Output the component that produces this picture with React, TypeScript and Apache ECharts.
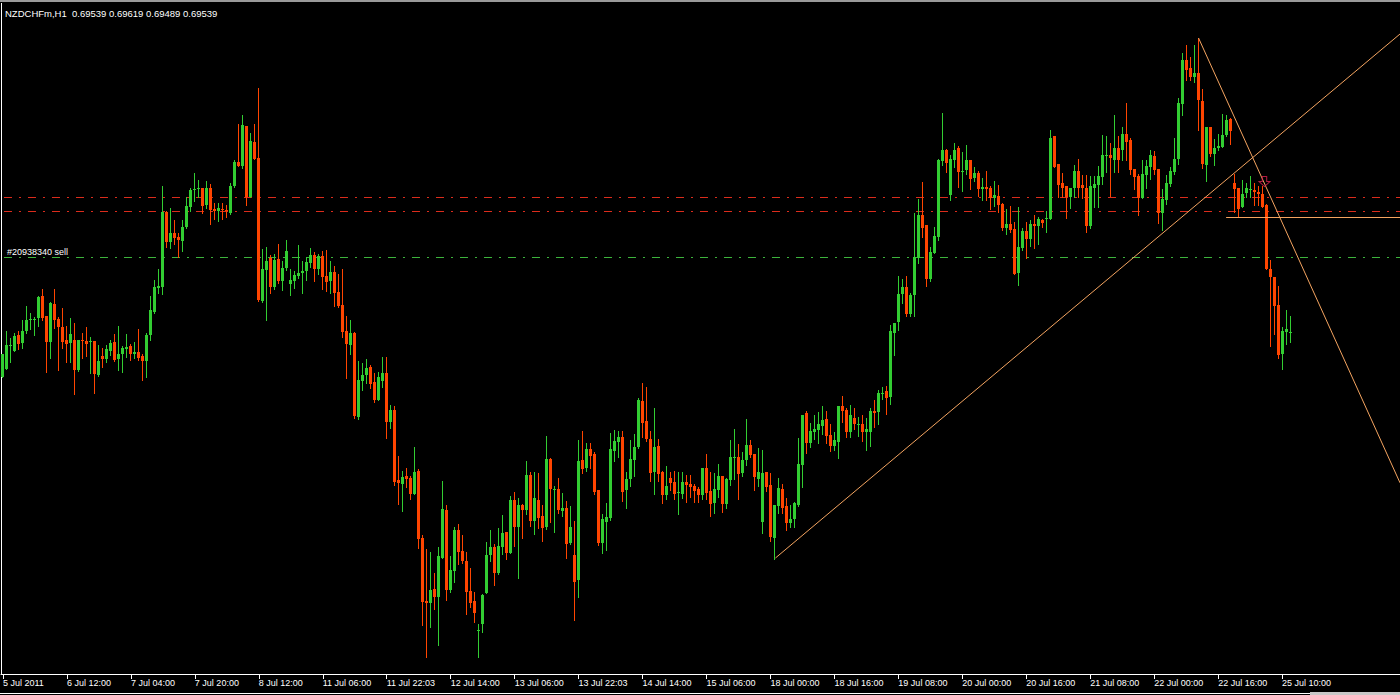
import React, { useEffect, useRef } from "react";
import * as echarts from "echarts";

// ---- texts ----
const titleText = "NZDCHFm,H1  0.69539 0.69619 0.69489 0.69539";
const orderText = "#20938340 sell";
const tickLabels = [
  "5 Jul 2011", "6 Jul 12:00", "7 Jul 04:00", "7 Jul 20:00", "8 Jul 12:00",
  "11 Jul 06:00", "11 Jul 22:03", "12 Jul 14:00", "13 Jul 06:00", "13 Jul 22:03",
  "14 Jul 14:00", "15 Jul 06:00", "18 Jul 00:00", "18 Jul 16:00", "19 Jul 08:00",
  "20 Jul 00:00", "20 Jul 16:00", "21 Jul 08:00", "22 Jul 00:00", "22 Jul 16:00",
  "25 Jul 10:00",
];
const barsPerTick = 16;
const totalSlots = 350; // visible bar slots incl. right-hand shift space

// ---- H1 candles: [open, close, low, high] in points (1e-5) ----
const seg00 = [
  [69315, 69430, 69315, 69430], [69355, 69475, 69355, 69545], [69470, 69475, 69390, 69510], [69445, 69520, 69445, 69535],
  [69525, 69480, 69455, 69545], [69485, 69545, 69460, 69600], [69545, 69600, 69535, 69670], [69600, 69605, 69555, 69635],
  [69600, 69605, 69525, 69615], [69610, 69715, 69570, 69720], [69720, 69610, 69600, 69755], [69620, 69490, 69340, 69620],
  [69490, 69685, 69410, 69690], [69680, 69600, 69560, 69755], [69605, 69565, 69350, 69615], [69565, 69490, 69460, 69660],
];
const seg01 = [
  [69500, 69480, 69390, 69570], [69485, 69530, 69390, 69610], [69500, 69350, 69230, 69585], [69350, 69500, 69345, 69500],
  [69500, 69495, 69410, 69535], [69495, 69480, 69420, 69565], [69490, 69495, 69335, 69515], [69495, 69330, 69235, 69495],
  [69325, 69395, 69320, 69475], [69420, 69405, 69365, 69460], [69405, 69455, 69390, 69475], [69445, 69485, 69425, 69500],
  [69490, 69400, 69395, 69530], [69405, 69430, 69350, 69570], [69430, 69460, 69340, 69470], [69455, 69465, 69415, 69530],
];
const seg02 = [
  [69470, 69430, 69400, 69480], [69430, 69440, 69410, 69490], [69440, 69410, 69400, 69555], [69420, 69395, 69300, 69430],
  [69395, 69525, 69315, 69535], [69525, 69650, 69500, 69720], [69640, 69765, 69635, 69800], [69760, 69770, 69735, 69855],
  [69765, 70140, 69730, 70270], [70140, 69990, 69965, 70145], [69990, 70035, 69960, 70160], [70035, 70010, 69980, 70100],
  [70015, 70000, 69915, 70035], [69995, 70065, 69945, 70100], [70065, 70170, 70060, 70215], [70165, 70250, 70145, 70260],
];
const seg03 = [
  [70250, 70255, 70195, 70335], [70255, 70260, 70215, 70300], [70260, 70170, 70135, 70260], [70175, 70260, 70160, 70295],
  [70260, 70150, 70080, 70280], [70155, 70145, 70105, 70185], [70145, 70160, 70095, 70185], [70155, 70150, 70105, 70185],
  [70150, 70145, 70115, 70175], [70135, 70270, 70130, 70285], [70270, 70390, 70265, 70400], [70390, 70370, 70370, 70580],
  [70370, 70575, 70360, 70625], [70570, 70215, 70175, 70570], [70215, 70495, 70215, 70535], [70490, 70405, 70405, 70580],
];
const seg04 = [
  [70410, 69700, 69695, 70760], [69695, 69855, 69690, 69955], [69850, 69895, 69600, 69965], [69910, 69765, 69735, 69925],
  [69765, 69900, 69755, 69930], [69905, 69795, 69785, 69980], [69795, 69860, 69750, 69895], [69860, 69945, 69850, 70000],
  [69780, 69800, 69725, 69855], [69795, 69825, 69760, 69845], [69820, 69835, 69810, 69975], [69835, 69845, 69735, 69895],
  [69845, 69890, 69800, 69915], [69885, 69925, 69865, 69960], [69925, 69855, 69795, 69940], [69855, 69920, 69830, 69930],
];
const seg05 = [
  [69920, 69815, 69755, 69945], [69820, 69790, 69745, 69950], [69795, 69840, 69735, 69895], [69840, 69735, 69670, 69870],
  [69740, 69670, 69665, 69830], [69675, 69540, 69515, 69855], [69545, 69480, 69310, 69620], [69475, 69535, 69430, 69600],
  [69535, 69120, 69110, 69540], [69115, 69300, 69105, 69395], [69295, 69325, 69250, 69385], [69325, 69360, 69285, 69405],
  [69365, 69280, 69260, 69375], [69290, 69200, 69190, 69335], [69200, 69315, 69200, 69340], [69295, 69335, 69265, 69415],
];
const seg06 = [
  [69335, 69090, 69010, 69415], [69090, 69150, 69060, 69175], [69150, 68790, 68775, 69170], [68800, 68785, 68680, 68920],
  [68780, 68815, 68645, 68845], [68820, 68805, 68765, 68860], [68810, 68730, 68705, 68820], [68730, 68840, 68730, 68965],
  [68845, 68505, 68460, 68855], [68510, 68190, 68075, 68525], [68195, 68185, 67915, 68455], [68185, 68250, 68065, 68440],
  [68255, 68215, 68155, 68335], [68215, 68420, 67975, 68465], [68410, 68655, 68410, 68795], [68650, 68250, 68200, 68675],
];
const seg07 = [
  [68250, 68350, 68240, 68420], [68345, 68550, 68290, 68565], [68550, 68440, 68380, 68580], [68445, 68395, 68385, 68525],
  [68395, 68240, 68130, 68440], [68245, 68185, 68165, 68360], [68195, 68135, 68090, 68240], [68045, 68050, 67915, 68080],
  [68080, 68225, 68040, 68230], [68235, 68425, 68235, 68490], [68425, 68465, 68395, 68550], [68465, 68335, 68275, 68480],
  [68335, 68470, 68330, 68560], [68465, 68535, 68430, 68625], [68540, 68435, 68405, 68540], [68435, 68700, 68435, 68720],
];
const seg08 = [
  [68700, 68565, 68470, 68740], [68565, 68675, 68310, 68710], [68675, 68650, 68510, 68680], [68650, 68825, 68630, 68895],
  [68825, 68595, 68570, 68840], [68595, 68710, 68530, 68840], [68700, 68610, 68560, 68835], [68620, 68560, 68495, 68675],
  [68565, 68905, 68555, 69020], [68905, 68755, 68590, 68910], [68750, 68755, 68540, 68770], [68755, 68650, 68635, 68810],
  [68645, 68660, 68620, 68735], [68660, 68480, 68410, 68695], [68485, 68565, 68480, 68670], [68425, 68290, 68100, 68595],
];
const seg09 = [
  [68300, 68895, 68215, 69000], [68900, 68855, 68835, 69045], [68860, 68955, 68845, 68985], [68955, 68920, 68860, 68985],
  [68930, 68740, 68730, 68940], [68750, 68485, 68475, 68750], [68485, 68605, 68435, 68630], [68590, 68615, 68450, 68685],
  [68610, 68955, 68600, 69035], [68945, 68995, 68895, 69050], [68990, 69015, 68915, 69045], [69015, 68740, 68695, 69045],
  [68750, 68805, 68660, 68840], [68805, 68905, 68770, 69000], [68900, 68965, 68820, 69030], [68965, 69200, 68960, 69210],
];
const seg10 = [
  [69195, 69085, 69015, 69285], [69095, 69005, 68995, 69265], [69005, 68835, 68795, 69045], [68840, 68965, 68730, 69160],
  [68970, 68830, 68795, 69005], [68840, 68725, 68685, 68845], [68725, 68770, 68705, 68870], [68810, 68785, 68750, 68840],
  [68790, 68730, 68705, 68845], [68735, 68740, 68630, 68840], [68730, 68790, 68710, 68840], [68790, 68775, 68690, 68825],
  [68780, 68765, 68715, 68825], [68770, 68745, 68690, 68780], [68755, 68725, 68690, 68765], [68725, 68860, 68705, 68860],
];
const seg11 = [
  [68860, 68735, 68705, 68930], [68745, 68680, 68620, 68840], [68685, 68755, 68635, 68835], [68750, 68820, 68715, 68880],
  [68820, 68680, 68640, 68820], [68680, 68805, 68660, 68810], [68800, 68915, 68775, 69000], [68910, 68915, 68805, 69055],
  [68915, 68830, 68705, 68980], [68835, 68900, 68820, 68940], [68900, 68975, 68875, 69105], [68975, 68925, 68915, 69000],
  [68930, 68815, 68750, 68930], [68805, 68840, 68770, 68960], [68590, 68835, 68535, 68950], [68840, 68765, 68745, 68840],
];
const seg12 = [
  [68775, 68515, 68495, 68835], [68510, 68675, 68405, 68675], [68670, 68760, 68635, 68810], [68755, 68660, 68635, 68780],
  [68670, 68585, 68550, 68710], [68585, 68605, 68565, 68675], [68605, 68685, 68565, 68690], [68675, 68880, 68670, 69010],
  [68875, 69125, 68765, 69125], [69135, 68985, 68935, 69145], [68985, 69045, 68965, 69085], [69040, 69055, 69005, 69125],
  [69050, 69080, 68985, 69140], [69070, 69100, 69030, 69170], [69105, 69020, 68985, 69145], [69025, 68970, 68945, 69080],
];
const seg13 = [
  [68970, 69000, 68950, 69040], [68990, 69170, 68910, 69170], [69170, 69145, 69090, 69220], [69150, 69040, 69015, 69160],
  [69040, 69125, 69015, 69175], [69110, 69080, 69055, 69160], [69075, 69080, 69020, 69115], [69080, 69040, 68995, 69125],
  [69040, 69055, 68950, 69110], [69040, 69145, 68970, 69160], [69145, 69135, 69065, 69200], [69140, 69235, 69080, 69250],
  [69230, 69235, 69205, 69265], [69245, 69210, 69130, 69270], [69215, 69545, 69180, 69575], [69535, 69585, 69425, 69585],
];
const seg14 = [
  [69590, 69730, 69550, 69820], [69730, 69765, 69685, 69805], [69765, 69630, 69620, 69820], [69630, 69725, 69620, 69735],
  [69725, 69915, 69620, 70135], [69910, 70125, 69885, 70205], [70125, 70060, 70015, 70290], [70075, 69805, 69770, 70075],
  [69805, 69940, 69795, 69965], [69935, 70020, 69935, 70065], [70015, 70400, 70000, 70405], [70395, 70450, 70375, 70635],
  [70450, 70385, 70340, 70455], [70225, 70405, 70200, 70425], [70400, 70450, 70365, 70485], [70460, 70340, 70265, 70470],
];
const seg15 = [
  [70340, 70345, 70245, 70440], [70350, 70400, 70330, 70475], [70400, 70305, 70255, 70400], [70310, 70335, 70295, 70365],
  [70335, 70255, 70220, 70345], [70255, 70265, 70200, 70310], [70265, 70255, 70200, 70345], [70260, 70210, 70155, 70270],
  [70210, 70225, 70170, 70295], [70220, 70175, 70140, 70275], [70180, 70060, 70050, 70185], [70060, 70080, 70030, 70155],
  [70080, 70050, 70040, 70170], [70055, 69830, 69830, 70090], [69835, 69965, 69775, 70165], [69960, 70045, 69950, 70060],
];
const seg16 = [
  [70045, 70005, 69910, 70090], [70005, 70080, 69970, 70100], [70080, 70070, 69960, 70125], [70070, 70105, 69980, 70115],
  [70100, 70085, 70065, 70105], [70105, 70110, 70040, 70145], [70105, 70510, 70105, 70550], [70520, 70365, 70365, 70520],
  [70380, 70275, 70215, 70380], [70285, 70260, 70215, 70335], [70270, 70215, 70110, 70270], [70215, 70260, 70160, 70260],
  [70260, 70345, 70215, 70375], [70345, 70260, 70215, 70405], [70275, 70260, 70210, 70325], [70260, 70070, 70040, 70325],
];
const seg17 = [
  [70070, 70270, 70060, 70320], [70260, 70280, 70165, 70320], [70275, 70320, 70165, 70370], [70315, 70425, 70280, 70525],
  [70420, 70425, 70340, 70520], [70425, 70410, 70220, 70485], [70400, 70460, 70340, 70625], [70460, 70400, 70340, 70520],
  [70450, 70530, 70400, 70565], [70530, 70490, 70400, 70685], [70500, 70350, 70330, 70510], [70355, 70315, 70255, 70355],
  [70320, 70210, 70125, 70330], [70210, 70330, 70210, 70400], [70325, 70370, 70260, 70400], [70365, 70425, 70305, 70450],
];
const seg18 = [
  [70420, 70350, 70330, 70445], [70355, 70135, 70085, 70355], [70135, 70205, 70050, 70255], [70200, 70285, 70180, 70325],
  [70280, 70345, 70270, 70365], [70340, 70405, 70330, 70510], [70405, 70685, 70380, 70710], [70680, 70900, 70625, 70935],
  [70900, 70850, 70800, 70975], [70860, 70815, 70800, 70915], [70815, 70835, 70790, 70975], [70835, 70700, 70550, 71010],
  [70695, 70380, 70360, 70755], [70375, 70565, 70295, 70565], [70565, 70430, 70420, 70565], [70430, 70460, 70375, 70505],
];
const seg19 = [
  [70460, 70470, 70450, 70530], [70465, 70525, 70465, 70630], [70525, 70600, 70520, 70625], [70605, 70545, 70480, 70610],
  [70285, 70255, 70140, 70330], [70260, 70155, 70115, 70260], [70165, 70230, 70165, 70300], [70235, 70260, 70215, 70285],
  [70250, 70255, 70215, 70320], [70250, 70240, 70175, 70285], [70240, 70230, 70175, 70270], [70230, 70165, 70165, 70270],
  [70175, 69855, 69855, 70180], [69855, 69815, 69470, 69900], [69815, 69670, 69530, 69815], [69675, 69425, 69410, 69770],
];
const seg20 = [
  [69430, 69545, 69355, 69565], [69540, 69555, 69480, 69650], [69539, 69539, 69489, 69619],
];
const segments = [seg00, seg01, seg02, seg03, seg04, seg05, seg06, seg07, seg08, seg09, seg10,
  seg11, seg12, seg13, seg14, seg15, seg16, seg17, seg18, seg19, seg20];

// ---- order levels and drawn objects (price; x in bar slots) ----
const stopLevels = [0.702125, 0.701425];
const sellLevel = 0.699125;
const hLine = [[306.0, 0.701125], [349.5, 0.701125]];
const trendUp = [[193.25, 0.6841], [349.5, 0.7103]];
const trendDown = [[299.1, 0.7101], [349.5, 0.68786]];
const sellArrow = [[315.6, 0.70292]];

const priceMin = 0.6783;
const priceMax = 0.712;

const BULL = "#32cd32";
const BEAR = "#ff4500";
const TREND = "#f4a460";
const STOP = "#dc2c1c";
const SELL = "#3cb43c";
const FONT = '"Liberation Sans", Arial, sans-serif';

export default function App() {
  const ref = useRef<HTMLDivElement>(null);

  useEffect(() => {
    document.body.style.margin = "0";
    document.body.style.background = "#000";
    const chart = echarts.init(ref.current!, undefined, { renderer: "svg" });

    const candles = segments.flat().map((r, i) => [i, ...r.map((v) => v / 100000)]);
    const categories = Array.from({ length: totalSlots }, (_, i) => String(i));
    const isTick = (idx: number) => idx % barsPerTick === 0 && idx / barsPerTick < tickLabels.length;

    const levelSeries = (price: number, color: string) => ({
      type: "line",
      xAxisIndex: 1,
      yAxisIndex: 0,
      data: [[0.25, price], [349.5, price]],
      symbol: "none",
      silent: true,
      z: 1,
      lineStyle: { color, width: 1, type: [8, 7, 2, 7] },
    });
    const trendSeries = (pts: number[][]) => ({
      type: "line",
      xAxisIndex: 1,
      yAxisIndex: 0,
      data: pts,
      symbol: "none",
      silent: true,
      clip: true,
      z: 5,
      lineStyle: { color: TREND, width: 1 },
    });

    const renderCandle = (_params: any, api: any) => {
      const i = api.value(0);
      const o = api.value(1);
      const c = api.value(2);
      const l = api.value(3);
      const h = api.value(4);
      const pO = api.coord([i, o]);
      const pC = api.coord([i, c]);
      const pL = api.coord([i, l]);
      const pH = api.coord([i, h]);
      const x = Math.floor(pO[0]);
      const color = c >= o ? BULL : BEAR;
      const top = Math.round(Math.min(pO[1], pC[1]));
      const bottom = Math.round(Math.max(pO[1], pC[1]));
      return {
        type: "group",
        children: [
          {
            type: "line",
            shape: { x1: x + 0.5, y1: Math.round(pH[1]), x2: x + 0.5, y2: Math.round(pL[1]) + 1 },
            style: { stroke: color, lineWidth: 1 },
          },
          {
            type: "rect",
            shape: { x: x - 1, y: top, width: 3, height: Math.max(1, bottom - top) },
            style: { fill: color },
          },
        ],
      };
    };

    chart.setOption({
      animation: false,
      backgroundColor: "#000",
      grid: { left: 0, right: 0, top: 0, bottom: 21, containLabel: false },
      xAxis: [
        {
          type: "category",
          data: categories,
          boundaryGap: true,
          axisLine: { show: true, lineStyle: { color: "#ffffff", width: 1 } },
          axisTick: {
            show: true,
            alignWithLabel: true,
            interval: (idx: number) => isTick(idx),
            length: 5,
            lineStyle: { color: "#ffffff" },
          },
          axisLabel: {
            show: true,
            interval: (idx: number) => isTick(idx),
            formatter: (_v: string, idx: number) => (isTick(idx) ? tickLabels[idx / barsPerTick] : ""),
            color: "#ffffff",
            fontSize: 9,
            fontFamily: FONT,
            align: "left",
            margin: 4,
          },
          splitLine: { show: false },
        },
        { type: "value", min: -0.5, max: 349.5, show: false },
      ],
      yAxis: {
        type: "value",
        min: priceMin,
        max: priceMax,
        show: false,
        splitLine: { show: false },
      },
      series: [
        levelSeries(stopLevels[0], STOP),
        levelSeries(stopLevels[1], STOP),
        levelSeries(sellLevel, SELL),
        {
          type: "custom",
          xAxisIndex: 0,
          yAxisIndex: 0,
          data: candles,
          encode: { x: 0, y: [1, 2, 3, 4] },
          renderItem: renderCandle,
          silent: true,
          z: 3,
        },
        {
          type: "line",
          xAxisIndex: 1,
          data: hLine,
          symbol: "none",
          silent: true,
          z: 4,
          lineStyle: { color: TREND, width: 1 },
        },
        trendSeries(trendUp),
        trendSeries(trendDown),
        {
          type: "scatter",
          xAxisIndex: 1,
          data: sellArrow,
          symbol: "path://M3,0 L7,0 L7,5 L10,5 L5,10 L0,5 L3,5 Z",
          symbolSize: [11, 10],
          silent: true,
          z: 6,
          itemStyle: { color: "rgba(0,0,0,0)", borderColor: "#dc2050", borderWidth: 1 },
        },
      ],
      graphic: [
        { type: "rect", shape: { x: 0, y: 0, width: 1400, height: 2 }, style: { fill: "#9a9a9a" }, silent: true },
        { type: "line", shape: { x1: 1.5, y1: 3, x2: 1.5, y2: 674 }, style: { stroke: "#ffffff", lineWidth: 1 }, silent: true },
        { type: "line", shape: { x1: 0, y1: 693.5, x2: 1310, y2: 693.5 }, style: { stroke: "#ffffff", lineWidth: 1 }, silent: true },
        { type: "rect", shape: { x: 1310, y: 692, width: 90, height: 3 }, style: { fill: "#c8c8c8" }, silent: true },
        {
          type: "text",
          x: 5,
          y: 13,
          style: { text: titleText, fill: "#ffffff", font: `9.5px ${FONT}`, verticalAlign: "middle" },
          silent: true,
        },
        {
          type: "text",
          x: 7,
          y: 251.5,
          style: { text: orderText, fill: "#ffffff", font: `9px ${FONT}`, verticalAlign: "middle" },
          silent: true,
        },
      ],
    });

    return () => chart.dispose();
  }, []);

  return <div ref={ref} style={{ position: "fixed", left: 0, top: 0, width: 1400, height: 695, background: "#000" }} />;
}
